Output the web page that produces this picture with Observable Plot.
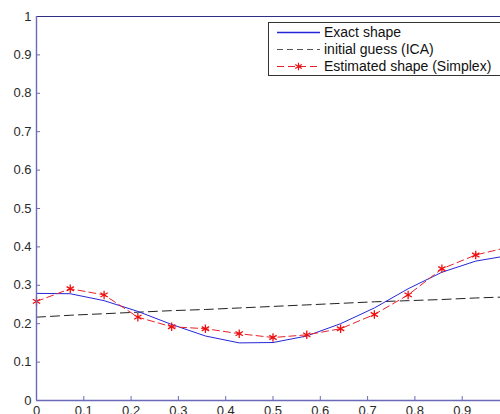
<!DOCTYPE html>
<html>
<head>
<meta charset="utf-8">
<script src="https://cdn.jsdelivr.net/npm/d3@7"></script>
<script src="https://cdn.jsdelivr.net/npm/@observablehq/plot@0.6"></script>
<style>
  html, body { margin: 0; padding: 0; background: #fff; overflow: hidden; }
  #chart svg { display: block; overflow: hidden; }
</style>
</head>
<body>
<div id="chart"></div>
<script>
const xNodes = [0, 0.0714, 0.1429, 0.2143, 0.2857, 0.3571, 0.4286, 0.5, 0.5714, 0.6429, 0.7143, 0.7857, 0.8571, 0.9286, 1.0];
const exactShape = [0.279, 0.278, 0.260, 0.232, 0.198, 0.168, 0.150, 0.151, 0.168, 0.200, 0.241, 0.291, 0.334, 0.363, 0.378];
const initialGuess = [0.217, 0.222, 0.226, 0.230, 0.234, 0.237, 0.241, 0.245, 0.249, 0.253, 0.257, 0.260, 0.263, 0.267, 0.270];
const estimatedShape = [0.258, 0.291, 0.275, 0.217, 0.192, 0.187, 0.174, 0.164, 0.171, 0.187, 0.224, 0.275, 0.343, 0.379, 0.400];
const xTicks = [0, 0.1, 0.2, 0.3, 0.4, 0.5, 0.6, 0.7, 0.8, 0.9, 1];
const yTicks = [0, 0.1, 0.2, 0.3, 0.4, 0.5, 0.6, 0.7, 0.8, 0.9, 1];
const legendLabels = ["Exact shape", "initial guess (ICA)", "Estimated shape (Simplex)"];

const exactData = xNodes.map((x, i) => ({x, y: exactShape[i]}));
const initData = xNodes.map((x, i) => ({x, y: initialGuess[i]}));
const estData = xNodes.map((x, i) => ({x, y: estimatedShape[i]}));

const axisColor = "#6a6ab8";
const tickLen = 4 / 384;

const plot = Plot.plot({
  width: 500,
  height: 414,
  marginLeft: 36,
  marginTop: 16,
  marginBottom: 14,
  marginRight: 0,
  style: {fontFamily: "'Liberation Sans', Arial, sans-serif", fontSize: "13px", color: "#222", overflow: "hidden", background: "#fff"},
  x: {domain: [0, 1], range: [36, 509]},
  y: {domain: [0, 1], range: [400, 16]},
  marks: [
    Plot.axisX(xTicks, {tickSize: 0, tickPadding: 5, tickFormat: d => String(d), fontSize: 13, fill: "#2a2a2a", label: null}),
    Plot.axisY(yTicks, {tickSize: 0, tickPadding: 5, tickFormat: d => String(d), fontSize: 13, fill: "#2a2a2a", label: null}),
    Plot.ruleX(xTicks.slice(1), {x: d => d, y1: 0, y2: tickLen, stroke: axisColor}),
    Plot.ruleY(yTicks.slice(1), {y: d => d, x1: 0, x2: 4 / 473, stroke: axisColor}),
    Plot.line(initData, {x: "x", y: "y", stroke: "#222", strokeWidth: 1, strokeDasharray: "9,5"}),
    Plot.line(exactData, {x: "x", y: "y", stroke: "#2626d8", strokeWidth: 1}),
    Plot.line(estData, {x: "x", y: "y", stroke: "#e8202a", strokeWidth: 1, strokeDasharray: "7,4"}),
    Plot.dot(estData, {x: "x", y: "y", symbol: "asterisk", stroke: "#ee1010", strokeWidth: 1.3, r: 4}),
    Plot.ruleY([1], {stroke: "#2e2e86", strokeWidth: 1.2}),
    Plot.ruleY([0], {stroke: axisColor, strokeWidth: 1.4}),
    Plot.ruleX([0], {stroke: axisColor, strokeWidth: 1.4})
  ]
});

document.getElementById("chart").appendChild(plot);

// legend
const svg = d3.select(plot);
const lg = svg.append("g")
  .attr("font-family", "'Liberation Sans', Arial, sans-serif")
  .attr("font-size", 14)
  .attr("text-anchor", "start");
lg.append("rect").attr("x", 268.5).attr("y", 22.5).attr("width", 240).attr("height", 53)
  .attr("fill", "#fff").attr("stroke", "#333").attr("stroke-width", 1);
const rows = [
  {stroke: "#2626d8", dash: null, marker: false},
  {stroke: "#555", dash: "6,4", marker: false},
  {stroke: "#e8202a", dash: "7,4", marker: true}
];
rows.forEach((r, i) => {
  const yy = 32.5 + i * 17;
  lg.append("line").attr("x1", 277).attr("x2", 320).attr("y1", yy).attr("y2", yy)
    .attr("stroke", r.stroke).attr("stroke-width", i === 0 ? 1.6 : 1.2)
    .attr("stroke-dasharray", r.dash);
  if (r.marker) {
    lg.append("path").attr("transform", `translate(298.5,${yy})`)
      .attr("d", d3.symbol(d3.symbolAsterisk, 40)())
      .attr("stroke", "#ee1010").attr("stroke-width", 1.2).attr("fill", "none");
  }
  lg.append("text").attr("x", 324).attr("y", yy).attr("dy", "0.35em").attr("fill", "#111")
    .attr("text-anchor", "start")
    .text(legendLabels[i]);
});
</script>
</body>
</html>
